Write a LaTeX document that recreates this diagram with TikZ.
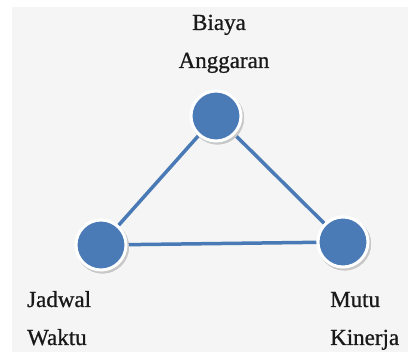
\documentclass[tikz,border=0pt]{standalone}
\usepackage{fontspec}
\setmainfont{Liberation Serif}
\newfontfamily\lblfont{Liberation Serif}[FakeBold=0.8]
\definecolor{bg}{HTML}{F5F5F5}
\definecolor{dotblue}{HTML}{4A7BB7}
\definecolor{lineblue}{HTML}{4A7AB5}
\definecolor{ringshadow}{HTML}{C8C8C8}
\begin{document}
\begin{tikzpicture}[x=1pt,y=-1pt,
  vertex/.style={circle,fill=dotblue,draw=white,line width=3pt,minimum size=50pt,inner sep=0pt,
    preaction={fill=ringshadow,draw=ringshadow,line width=3pt,transform canvas={xshift=1.5pt,yshift=-2pt}}},
  link/.style={lineblue,line width=3.5pt},
  lbl/.style={font=\lblfont\fontsize{23}{27}\selectfont,inner sep=0pt,text=black!90}]
\useasboundingbox (0,0) rectangle (408,352);
\fill[bg] (12,7) rectangle (408,352);
\node[vertex] (top) at (216,116) {};
\node[vertex] (left) at (101,245) {};
\node[vertex] (right) at (343,242) {};
\draw[link] (top) -- (left);
\draw[link] (top) -- (right);
\draw[link] (left) -- (right);
\node[vertex] at (top) {};
\node[vertex] at (left) {};
\node[vertex] at (right) {};
\node[lbl,anchor=base] (t1) at (219,30) {Biaya};
\node[lbl,anchor=base] (t2) at (224,68) {Anggaran};
\node[lbl,anchor=base west] (l1) at (27,307) {Jadwal};
\node[lbl,anchor=base west] (l2) at (27,345) {Waktu};
\node[lbl,anchor=base west] (r1) at (330,307) {Mutu};
\node[lbl,anchor=base west] (r2) at (330,345) {Kinerja};
\end{tikzpicture}
\end{document}
